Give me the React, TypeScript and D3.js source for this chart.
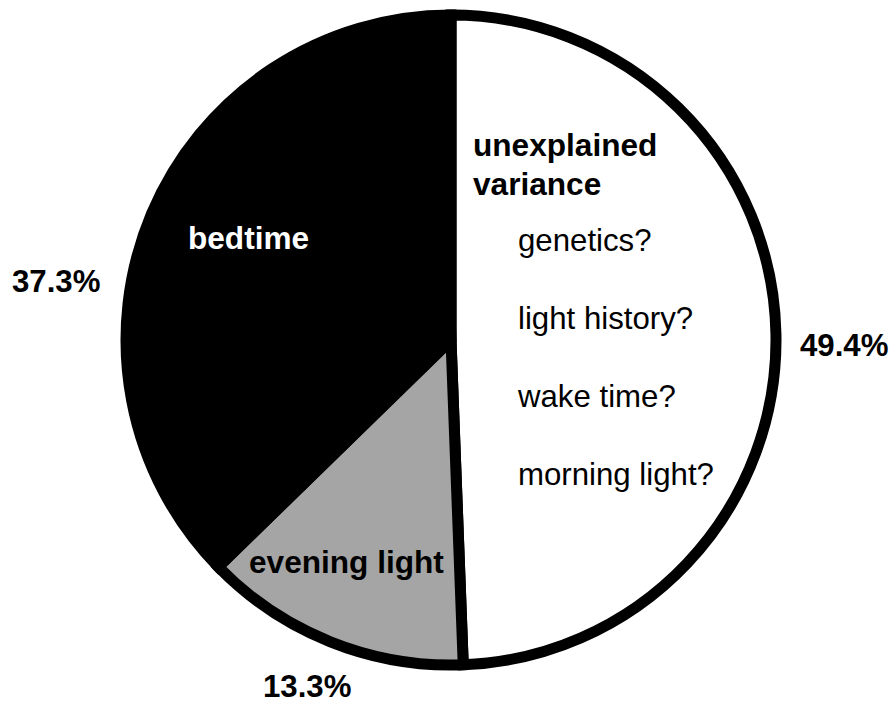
import React from "react";
import * as d3 from "d3";

// Share of variance explained, clockwise from 12 o'clock
const categories = ["unexplained variance", "evening light", "bedtime"];
const shares = [49.4, 13.3, 37.3];
const fills = ["#ffffff", "#a5a5a5", "#000000"];
const percentLabels = ["49.4%", "13.3%", "37.3%"];

// Candidate sources of the unexplained part
const candidates = ["genetics?", "light history?", "wake time?", "morning light?"];

const W = 895;
const H = 705;
const CX = 451;
const CY = 340;
const R = 325;
const FONT = "'Liberation Sans', Arial, Helvetica, sans-serif";

// Hand-placed label anchors (x, baseline y), in category order
const percentPos: [number, number][] = [
  [800, 356],
  [263, 697],
  [12, 292],
];

export default function App() {
  const pie = d3
    .pie<number>()
    .sort(null)
    .startAngle(0)
    .endAngle(2 * Math.PI);
  const arcs = pie(shares);
  const arc = d3.arc<d3.PieArcDatum<number>>().innerRadius(0).outerRadius(R);

  return (
    <svg
      width={W}
      height={H}
      style={{ position: "absolute", left: 0, top: 0, background: "#fff" }}
      fontFamily={FONT}
    >
      <g transform={`translate(${CX},${CY})`}>
        {arcs.map((a, i) => (
          <path
            key={categories[i]}
            d={arc(a) ?? ""}
            fill={fills[i]}
            stroke="#000"
            strokeWidth={11}
            strokeLinejoin="miter"
          />
        ))}
      </g>

      {/* slice names */}
      <text x={473} y={156} fontSize={31.6} fontWeight="bold" fill="#000">
        unexplained
      </text>
      <text x={473} y={195} fontSize={31.6} fontWeight="bold" fill="#000">
        variance
      </text>
      <text x={188} y={249} fontSize={31.6} fontWeight="bold" fill="#fff">
        {categories[2]}
      </text>
      <text x={249} y={573} fontSize={31.6} fontWeight="bold" fill="#000">
        {categories[1]}
      </text>

      {/* candidate explanations */}
      {candidates.map((c, i) => (
        <text key={c} x={518} y={251 + i * 78} fontSize={31.2} fill="#000">
          {c}
        </text>
      ))}

      {/* percentages */}
      {percentLabels.map((p, i) => (
        <text
          key={p}
          x={percentPos[i][0]}
          y={percentPos[i][1]}
          fontSize={31.2}
          fontWeight="bold"
          fill="#000"
        >
          {p}
        </text>
      ))}
    </svg>
  );
}
